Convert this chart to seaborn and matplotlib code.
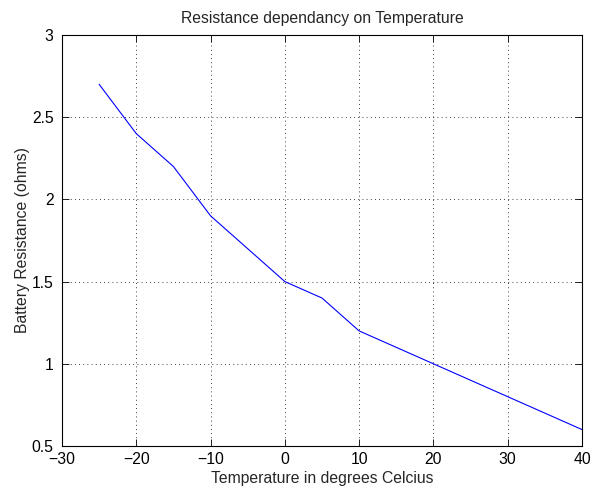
import matplotlib
matplotlib.use("Agg")
import matplotlib.pyplot as plt
import seaborn as sns
import pandas as pd

# Battery resistance measured at several temperatures
temperature = [-25, -20, -15, -10, 0, 5, 10, 20, 30, 40]
resistance = [2.7, 2.4, 2.2, 1.9, 1.5, 1.4, 1.2, 1.0, 0.8, 0.6]

x_ticks = [-30, -20, -10, 0, 10, 20, 30, 40]
y_ticks = [0.5, 1, 1.5, 2, 2.5, 3]
y_tick_labels = ["0.5", "1", "1.5", "2", "2.5", "3"]

sns.set_theme(style="white")
plt.rcParams["font.family"] = ["Liberation Sans", "DejaVu Sans"]
FS = 11.3
plt.rcParams["font.size"] = FS

df = pd.DataFrame({"T": temperature, "R": resistance})

fig = plt.figure(figsize=(5.93, 4.95), dpi=100)
ax = fig.add_axes([62 / 593, 1 - 446 / 495, (582 - 62) / 593, (446 - 35) / 495])

sns.lineplot(data=df, x="T", y="R", ax=ax, color="blue", linewidth=0.8,
             sort=False, estimator=None)

ax.set_xlim(-30, 40)
ax.set_ylim(0.5, 3)
ax.set_xticks(x_ticks)
ax.set_xticklabels([("\u2212" + str(-v)) if v < 0 else str(v) for v in x_ticks])
ax.set_yticks(y_ticks)
ax.set_yticklabels(y_tick_labels)

ax.grid(True, color="black", linestyle=(0, (1, 4)), linewidth=0.6)
for s in ax.spines.values():
    s.set_visible(True)
    s.set_color("black")
    s.set_linewidth(0.8)

ax.tick_params(direction="in", length=5, width=0.6, top=True, right=True,
               bottom=True, left=True, labelsize=FS, colors="black")
ax.tick_params(axis="x", pad=4)
ax.tick_params(axis="y", pad=6)

ax.set_title("Resistance dependancy on Temperature", fontsize=FS, pad=8.6)
ax.set_xlabel("Temperature in degrees Celcius", fontsize=FS, labelpad=3)
ax.set_ylabel("Battery Resistance (ohms)", fontsize=FS, labelpad=1.5)

fig.savefig("out.png", dpi=100, facecolor="white")
